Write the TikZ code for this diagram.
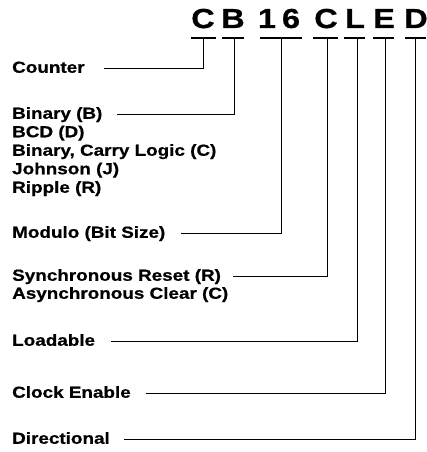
\documentclass[tikz,border=0pt]{standalone}
\usepackage{fontspec}
\setmainfont{Liberation Sans}[FakeStretch=1.18,BoldFeatures={FakeBold=0.7}]
\usetikzlibrary{calc}
\begin{document}
\begin{tikzpicture}[x=1pt,y=-1pt,
  lbl/.style={font=\bfseries\fontsize{16}{18}\selectfont, inner sep=0pt, anchor=west, text height=11.5pt, text depth=2pt},
  code/.style={font=\bfseries\fontsize{27.5}{30}\selectfont, inner sep=0pt, anchor=base},
  ul/.style={line width=2.8pt},
  conn/.style={line width=1pt}]
\useasboundingbox (0,0) rectangle (427,452);
% code letters
\node[code] (c1) at (203,28) {C};
\node[code] (cb) at (233,28) {B};
\node[code] (c16a) at (267,28) {1};
\node[code] (c16b) at (291,28) {6};
\node[code] (c2) at (326,28) {C};
\node[code] (cl) at (355,28) {L};
\node[code] (ce) at (384,28) {E};
\node[code] (cd) at (416,28) {D};
% underlines
\draw[ul] (191,38) -- (216,38);
\draw[ul] (222,38) -- (244,38);
\draw[ul] (260,38) -- (302,38);
\draw[ul] (313,38) -- (338,38);
\draw[ul] (344,38) -- (365,38);
\draw[ul] (373,38) -- (394,38);
\draw[ul] (405,38) -- (426,38);
\coordinate (u1) at (203,39);
\coordinate (ub) at (234,39);
\coordinate (u16) at (281,39);
\coordinate (u2) at (327,39);
\coordinate (ul) at (357,39);
\coordinate (ue) at (385,39);
\coordinate (ud) at (415,39);
% labels
\node[lbl] (cnt) at (12,68) {Counter};
\node[lbl] (bin) at (12,114) {Binary (B)};
\node[lbl] (bcd) at (12,132.5) {BCD (D)};
\node[lbl] (bcl) at (12,151) {Binary, Carry Logic (C)};
\node[lbl] (joh) at (12,169.5) {Johnson (J)};
\node[lbl] (rip) at (12,188) {Ripple (R)};
\node[lbl] (mod) at (12,233) {Modulo (Bit Size)};
\node[lbl] (syn) at (12,276) {Synchronous Reset (R)};
\node[lbl] (asy) at (12,294) {Asynchronous Clear (C)};
\node[lbl] (lod) at (12,341) {Loadable};
\node[lbl] (clk) at (12,393) {Clock Enable};
\node[lbl] (dir) at (12,439) {Directional};
% connectors
\draw[conn] (u1) |- ([xshift=19pt]cnt.east);
\draw[conn] (ub) |- ([xshift=14pt]bin.east);
\draw[conn] (u16) |- ([xshift=15pt]mod.east);
\draw[conn] (u2) |- ([xshift=12pt]syn.east);
\draw[conn] (ul) |- ([xshift=16pt]lod.east);
\draw[conn] (ue) |- ([xshift=15pt]clk.east);
\draw[conn] (ud) |- ([xshift=14pt]dir.east);
\end{tikzpicture}
\end{document}
